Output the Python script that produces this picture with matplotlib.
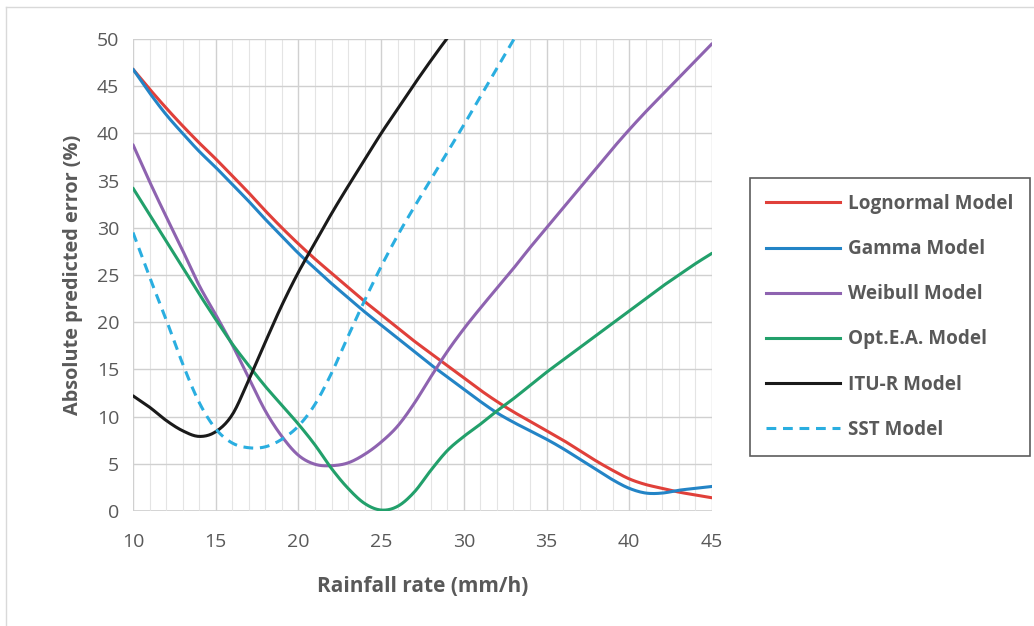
import numpy as np
import matplotlib
matplotlib.use('Agg')
import matplotlib.pyplot as plt
from matplotlib.lines import Line2D

# rainfall rate (mm/h)
rain = [10, 11, 12, 13, 14, 15, 16, 17, 18, 19, 20, 21, 22, 23, 24, 25, 26, 27,
        28, 29, 30, 31, 32, 33, 34, 35, 36, 37, 38, 39, 40, 41, 42, 43, 44, 45]

lognormal = [46.8, 44.7, 42.7, 40.8, 39.0, 37.3, 35.5, 33.7, 31.8, 30.0, 28.3, 26.7,
             25.2, 23.7, 22.2, 20.8, 19.4, 18.0, 16.7, 15.4, 14.1, 12.8, 11.6, 10.5,
             9.5, 8.5, 7.5, 6.4, 5.3, 4.3, 3.4, 2.8, 2.4, 2.0, 1.7, 1.4]
gamma = [46.8, 44.3, 42.0, 40.0, 38.1, 36.4, 34.6, 32.8, 30.9, 29.1, 27.3, 25.7,
         24.1, 22.6, 21.1, 19.7, 18.3, 16.9, 15.5, 14.2, 12.9, 11.6, 10.4, 9.4,
         8.5, 7.6, 6.6, 5.5, 4.4, 3.3, 2.4, 1.9, 1.9, 2.2, 2.4, 2.6]
weibull = [38.8, 34.9, 31.2, 27.6, 23.9, 20.8, 17.6, 14.1, 10.6, 7.9, 5.9, 4.95,
           4.8, 5.1, 6.0, 7.3, 9.0, 11.4, 14.2, 16.9, 19.3, 21.5, 23.6, 25.7,
           27.9, 30.0, 32.1, 34.2, 36.3, 38.4, 40.4, 42.3, 44.1, 45.9, 47.7, 49.5]
opt_ea = [34.2, 31.4, 28.6, 25.8, 23.0, 20.3, 17.7, 15.4, 13.2, 11.2, 9.2, 7.0,
          4.5, 2.4, 0.8, 0.1, 0.5, 2.0, 4.3, 6.4, 7.9, 9.2, 10.6, 11.9,
          13.3, 14.7, 16.0, 17.3, 18.6, 19.9, 21.2, 22.5, 23.8, 25.0, 26.2, 27.3]

rain_itu = [10, 11, 12, 13, 14, 15, 16, 17, 18, 19, 20, 21, 22, 23, 24, 25, 26, 27, 28, 29, 30]
itu_r = [12.2, 11.0, 9.6, 8.5, 7.9, 8.4, 10.2, 13.9, 17.9, 21.8, 25.3, 28.4,
         31.5, 34.4, 37.2, 40.0, 42.6, 45.2, 47.7, 50.1, 52.4]

rain_sst = [10, 11, 12, 13, 14, 15, 16, 17, 18, 19, 20, 21, 22, 23, 24, 25, 26,
            27, 28, 29, 30, 31, 32, 33, 34]
sst = [29.5, 24.8, 20.3, 15.6, 11.5, 8.7, 7.2, 6.7, 6.8, 7.6, 9.0, 11.3, 14.6,
       18.5, 22.3, 25.9, 29.2, 32.2, 35.1, 38.0, 40.9, 43.9, 46.9, 49.9, 52.8]

labels = ['Lognormal Model', 'Gamma Model', 'Weibull Model',
          'Opt.E.A. Model', 'ITU-R Model', 'SST Model']
colors = ['#e0403a', '#2384c6', '#8e63b0', '#22a06b', '#1a1a1a', '#2aaee0']


def smooth(xs, ys, n=12):
    # catmull-rom through the read points, like a spreadsheet "smoothed line"
    x = np.asarray(xs, float)
    y = np.asarray(ys, float)
    px = np.concatenate([[2 * x[0] - x[1]], x, [2 * x[-1] - x[-2]]])
    py = np.concatenate([[2 * y[0] - y[1]], y, [2 * y[-1] - y[-2]]])
    t = np.linspace(0, 1, n, endpoint=False)[:, None]
    out = []
    for p in (px, py):
        p0, p1, p2, p3 = p[:-3], p[1:-2], p[2:-1], p[3:]
        seg = 0.5 * ((2 * p1) + (-p0 + p2) * t + (2 * p0 - 5 * p1 + 4 * p2 - p3) * t ** 2
                     + (-p0 + 3 * p1 - 3 * p2 + p3) * t ** 3)
        out.append(np.append(seg.T.ravel(), p[-2]))
    return out[0], out[1]


txt = '#595959'
plt.rcParams['font.family'] = ['Open Sans', 'DejaVu Sans']

fig = plt.figure(figsize=(10.34, 6.26), dpi=100)
ax = fig.add_axes([133 / 1034, 1 - 511 / 626, (712 - 133) / 1034, (511 - 39) / 626])

series = [(rain, lognormal), (rain, gamma), (rain, weibull), (rain, opt_ea),
          (rain_itu, itu_r)]
for (xs, ys), c, lab in zip(series, colors[:5], labels[:5]):
    ax.plot(*smooth(xs, ys), color=c, lw=2.2, label=lab, solid_capstyle='round')
ax.plot(*smooth(rain_sst, sst), color=colors[5], lw=2.2, ls=(0, (3.2, 2.2)), label=labels[5])

ax.set_xlim(10, 45)
ax.set_ylim(0, 50)
ax.set_xticks(np.arange(10, 46, 5))
ax.set_xticks(np.arange(10, 46, 1), minor=True)
ax.set_yticks(np.arange(0, 51, 5))
ax.grid(which='major', color='#d0d0d0', lw=1.0)
ax.grid(which='minor', axis='x', color='#e4e4e4', lw=0.8)
ax.set_axisbelow(True)
for s in ax.spines.values():
    s.set_visible(False)
ax.axhline(0, color='#d0d0d0', lw=1.2, zorder=0.5)
ax.tick_params(which='both', length=0, colors=txt, labelsize=14)
ax.tick_params(axis='x', pad=16)
ax.tick_params(axis='y', pad=10)

ax.set_xlabel('Rainfall rate (mm/h)', fontsize=15, fontweight='bold', color=txt, labelpad=18)
ax.set_ylabel('Absolute predicted error (%)', fontsize=14.3, fontweight='bold', color=txt, labelpad=10)

handles = [Line2D([], [], color=c, lw=2.2) for c in colors[:5]]
handles.append(Line2D([], [], color=colors[5], lw=2.2, ls=(0, (3.2, 2.2))))
leg = fig.legend(handles, labels, loc='upper left',
                 bbox_to_anchor=(750 / 1034, 1 - 178 / 626),
                 prop={'weight': 'bold', 'size': 13.6}, frameon=True,
                 fancybox=False, edgecolor='#333333', handlelength=3.9,
                 handletextpad=0.45, labelspacing=1.33, borderpad=0.85,
                 borderaxespad=0)
leg.get_frame().set_linewidth(1.2)
for t in leg.get_texts():
    t.set_color(txt)

# light frame of the chart area (top and left edges)
fig.add_artist(Line2D([6 / 1034, 1], [1 - 7 / 626, 1 - 7 / 626], color='#d9d9d9', lw=1))
fig.add_artist(Line2D([6 / 1034, 6 / 1034], [0, 1 - 7 / 626], color='#d9d9d9', lw=1))

fig.savefig('out.png', dpi=100)
